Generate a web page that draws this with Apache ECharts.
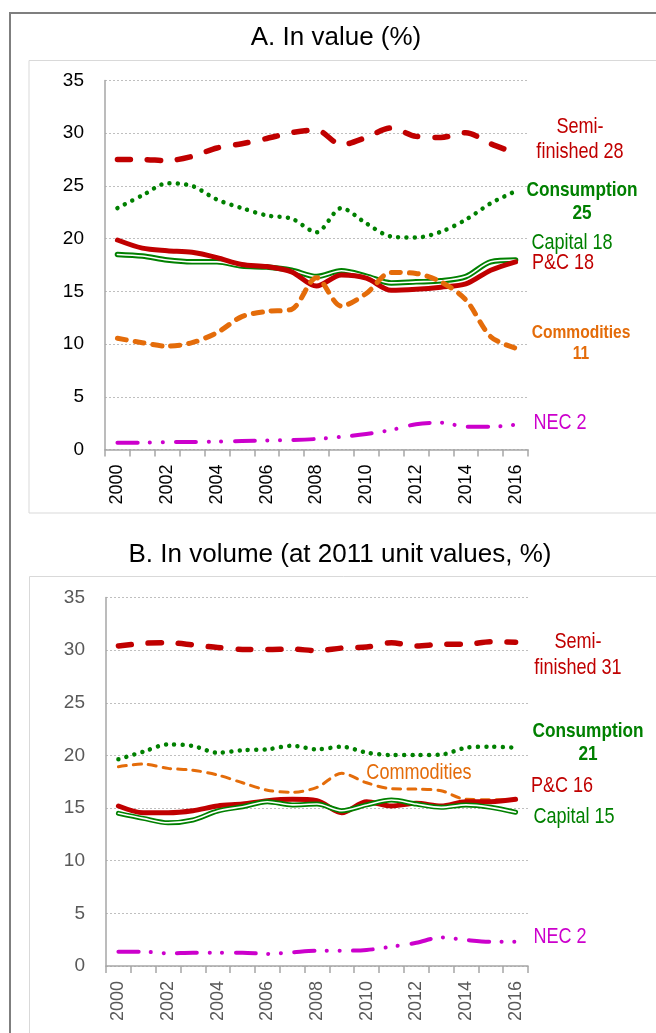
<!DOCTYPE html>
<html><head><meta charset="utf-8">
<script src="https://cdn.jsdelivr.net/npm/echarts@6/dist/echarts.min.js"></script>
<style>html,body{margin:0;padding:0;background:#fff}#c{width:656px;height:1033px}</style>
</head><body><div id="c"></div>
<script>
const years = ['2000','2001','2002','2003','2004','2005','2006','2007','2008','2009','2010','2011','2012','2013','2014','2015','2016'];
const yTicks = [0,5,10,15,20,25,30,35];

// Panel A: in value (%)
const semiA  = [27.5,27.5,27.4,27.8,28.6,29.0,29.5,30.05,30.3,28.9,29.6,30.5,29.7,29.6,30.05,29.0,28.1];
const consA  = [22.9,24.1,25.25,25.0,23.7,22.9,22.2,21.9,20.6,22.9,21.45,20.2,20.1,20.65,21.8,23.35,24.5];
const pcA    = [19.87,19.1,18.86,18.7,18.2,17.55,17.35,16.85,15.5,16.55,16.25,15.1,15.2,15.4,15.7,17.0,17.8];
const capA   = [18.5,18.35,17.97,17.8,17.8,17.4,17.3,17.0,16.4,16.95,16.45,15.8,15.9,16.0,16.4,17.8,17.97];
const commA  = [10.55,10.13,9.8,10.13,11.08,12.6,13.1,13.3,16.3,13.6,14.8,16.8,16.7,15.9,14.2,10.7,9.6];
const necA   = [0.65,0.65,0.7,0.7,0.75,0.8,0.85,0.9,1.0,1.2,1.47,1.85,2.4,2.55,2.16,2.15,2.35];

// Panel B: in volume (at 2011 unit values, %)
const semiB  = [30.4,30.65,30.7,30.5,30.25,30.07,30.05,30.1,29.95,30.2,30.3,30.7,30.4,30.55,30.55,30.8,30.75];
const consB  = [19.63,20.35,21.05,20.9,20.25,20.5,20.58,20.92,20.58,20.83,20.26,20.04,20.04,20.08,20.73,20.83,20.73];
const commB  = [18.93,19.18,18.77,18.6,18.14,17.4,16.7,16.5,16.97,18.3,17.4,16.84,16.8,16.65,15.83,15.8,15.8];
const pcB    = [15.2,14.56,14.56,14.75,15.2,15.38,15.7,15.83,15.7,14.56,15.6,15.2,15.45,15.2,15.6,15.6,15.83];
const capB   = [14.5,14.02,13.6,13.87,14.72,15.13,15.6,15.3,15.38,14.75,15.3,15.76,15.38,15.07,15.3,15.07,14.6];
const necB   = [1.36,1.36,1.2,1.26,1.26,1.26,1.15,1.3,1.45,1.45,1.52,1.83,2.2,2.72,2.47,2.3,2.3];

const RED='#C00000', GREEN='#008000', ORANGE='#E46C0A', MAG='#CC00CC';
const REG = '"Liberation Sans",Arial,sans-serif';

const chart = echarts.init(document.getElementById('c'), null, {renderer:'canvas'});

function xAx(gi, col){
  return {type:'category', gridIndex:gi, data:years, boundaryGap:true,
    axisLine:{lineStyle:{color:'#A6A6A6', width:1.5}},
    axisTick:{show:true, interval:0, length:7, lineStyle:{color:'#A6A6A6', width:1.5}},
    axisLabel:{interval:1, rotate:90, margin:15, color:col, fontFamily:REG, fontSize:18},
    splitLine:{show:false}};
}
function yAx(gi, col){
  return {type:'value', gridIndex:gi, min:0, max:35, interval:5,
    axisLine:{show:true, lineStyle:{color:'#A6A6A6', width:1.5}},
    axisTick:{show:false},
    axisLabel:{margin:21, color:col, fontFamily:REG, fontSize:19},
    splitLine:{show:true, lineStyle:{color:'#BFBFBF', type:[2,2], width:1}}};
}
function ln(name, gi, data, color, width, type){
  return {name, type:'line', xAxisIndex:gi, yAxisIndex:gi, data,
    symbol:'none', smooth:0.3, silent:true,
    lineStyle:{color, width, type, cap:'round', join:'round'}};
}
const NECDASH = [20,12.5,0.1,12.5,0.1,13.5];

function txt(t, x, y, color, size, bold){
  return {type:'text', silent:true, x, y, scaleX:0.82, style:{text:t, x:0, y:0, fill:color,
    font:(bold?'bold ':'')+size+'px '+REG, textAlign:'center', textVerticalAlign:'middle'}};
}

chart.setOption({
  animation:false,
  grid:[
    {left:105, right:128, top:80.5, height:369},
    {left:106, right:128, top:597.5, height:368.5}
  ],
  xAxis:[xAx(0,'#000'), xAx(1,'#595959')],
  yAxis:[yAx(0,'#000'), yAx(1,'#595959')],
  series:[
    ln('Consumption', 0, consA, GREEN, 4.5, [0.01,8.3]),
    ln('Semi-finished', 0, semiA, RED, 5.5, [13,17]),
    ln('Capital', 0, capA, GREEN, 5.5, 'solid'),
    ln('Capital inner', 0, capA, '#FFFFFF', 1.6, 'solid'),
    ln('P&C', 0, pcA, RED, 5, 'solid'),
    ln('Commodities', 0, commA, ORANGE, 5, [9,9]),
    ln('NEC', 0, necA, MAG, 4, NECDASH),

    ln('Consumption', 1, consB, GREEN, 4.5, [0.01,8.3]),
    ln('Semi-finished', 1, semiB, RED, 5.5, [13,17]),
    ln('Commodities', 1, commB, ORANGE, 3, [8,7]),
    ln('P&C', 1, pcB, RED, 5, 'solid'),
    ln('Capital', 1, capB, GREEN, 5, 'solid'),
    ln('Capital inner', 1, capB, '#FFFFFF', 1.6, 'solid'),
    ln('NEC', 1, necB, MAG, 4, NECDASH)
  ],
  graphic:[
    {type:'rect', silent:true, shape:{x:10, y:13, width:700, height:1100}, style:{fill:'none', stroke:'#7F7F7F', lineWidth:2}},
    {type:'rect', silent:true, shape:{x:29, y:60.5, width:700, height:452.5}, style:{fill:'none', stroke:'#D9D9D9', lineWidth:1}},
    {type:'rect', silent:true, shape:{x:29.5, y:576.5, width:700, height:600}, style:{fill:'none', stroke:'#D9D9D9', lineWidth:1}},
    {type:'text', silent:true, style:{text:'A. In value (%)', x:336, y:38, fill:'#000', font:'26px '+REG, textAlign:'center', textVerticalAlign:'middle'}},
    {type:'text', silent:true, style:{text:'B. In volume (at 2011 unit values, %)', x:340, y:555, fill:'#000', font:'26px '+REG, textAlign:'center', textVerticalAlign:'middle'}},

    txt('Semi-', 580, 127, RED, 22),
    txt('finished 28', 580, 152, RED, 22),
    txt('Consumption', 582, 190, GREEN, 21, true),
    txt('25', 582, 213, GREEN, 21, true),
    txt('Capital 18', 572, 243, GREEN, 22),
    txt('P&C 18', 563, 263, RED, 22),
    txt('Commodities', 581, 333, ORANGE, 19, true),
    txt('11', 581, 354, ORANGE, 19, true),
    txt('NEC 2', 560, 423, MAG, 22),

    txt('Semi-', 578, 642, RED, 22),
    txt('finished 31', 578, 668, RED, 22),
    txt('Consumption', 588, 731, GREEN, 21, true),
    txt('21', 588, 754, GREEN, 21, true),
    txt('Commodities', 419, 773, ORANGE, 22),
    txt('P&C 16', 562, 786, RED, 22),
    txt('Capital 15', 574, 817, GREEN, 22),
    txt('NEC 2', 560, 937, MAG, 22)
  ]
});
</script></body></html>
